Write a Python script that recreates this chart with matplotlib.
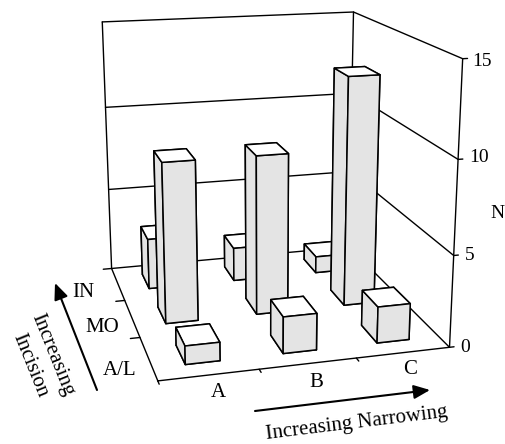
import numpy as np
import matplotlib
matplotlib.use("Agg")
import matplotlib.pyplot as plt
from matplotlib.patches import FancyArrowPatch
from mpl_toolkits.mplot3d import Axes3D

plt.rcParams['font.family'] = 'Liberation Serif'

narrowing = ['A', 'B', 'C']
incision = ['A/L', 'MO', 'IN']
counts_al = [1, 2, 2]
counts_mo = [9, 9, 13]
counts_in = [3, 2, 1]
z_ticks = [0, 5, 10, 15]

W, H = 506, 444
fs = 15
fig = plt.figure(figsize=(W / 100, H / 100), dpi=100)
ax = fig.add_axes([-0.038, -0.038, 1.1, 1.25], projection='3d')
ax.set_proj_type('persp', focal_length=0.4)
ax.view_init(elev=16, azim=-105)
ax.set_box_aspect((291, 308, 288), zoom=0.86)
ax.computed_zorder = False
ax.set_xlim(0, 3)
ax.set_ylim(0, 3)
ax.set_zlim(0, 15)
ax.set_axis_off()

k = dict(color='k', lw=1.0, zorder=1, solid_capstyle='round')
# floor
ax.plot([0, 3, 3, 0, 0], [0, 0, 3, 3, 0], [0, 0, 0, 0, 0], **k)
# walls
ax.plot([0, 0], [3, 3], [0, 15], **k)
ax.plot([3, 3], [3, 3], [0, 15], **k)
ax.plot([3, 3], [0, 0], [0, 15], **k)
ax.plot([0, 3, 3], [3, 3, 0], [15, 15, 15], **k)
for z in z_ticks[1:-1]:
    ax.plot([0, 3, 3], [3, 3, 0], [z, z, z], **k)
# ticks
for z in z_ticks:
    ax.plot([3, 3.05], [0, 0], [z, z], **k)
for x in range(3):
    ax.plot([x, x], [0, -0.07], [0, 0], **k)
for y in range(1, 4):
    ax.plot([0, -0.1], [y, y], [0, 0], **k)

# bars, back row first
width = 0.35
depth = 0.45
colors = ['#e4e4e4', 'white', '#e4e4e4', '#e4e4e4', '#e4e4e4', '#e4e4e4']
rows = [counts_al, counts_mo, counts_in]
order = 10
for iy in [2, 1, 0]:
    for ix, val in enumerate(rows[iy]):
        ax.bar3d(ix + 0.5 - width / 2, iy + 0.5 - depth / 2, 0, width, depth, val,
                 color=colors, edgecolor='k', linewidth=1.1, shade=False, zorder=order)
        order += 1

def px(x, y):
    return x / W, 1 - y / H

# tick labels
for t, pos in zip(z_ticks, [(465, 347), (470, 256), (479, 158), (482, 62)]):
    fig.text(*px(*pos), str(t), fontsize=14, ha='center', va='center')
for t, pos in zip(narrowing, [(218, 392), (316, 382), (410, 369)]):
    fig.text(*px(*pos), t, fontsize=fs, ha='center', va='center')
for t, pos in zip(incision, [(120, 370), (102, 327), (83, 292)]):
    fig.text(*px(*pos), t, fontsize=fs, ha='center', va='center')

fig.text(*px(497, 213), 'N', fontsize=14, ha='center', va='center')
fig.text(*px(357, 423), 'Increasing Narrowing', fontsize=fs, rotation=7, ha='center', va='center')
fig.text(*px(52, 355), 'Increasing', fontsize=fs, rotation=-68, ha='center', va='center')
fig.text(*px(30, 365), 'Incision', fontsize=fs, rotation=-68, ha='center', va='center')
arrow = dict(arrowstyle='-|>,head_length=0.7,head_width=0.3', color='k', lw=1.5, shrinkA=0, shrinkB=0, mutation_scale=14)
fig.add_artist(FancyArrowPatch(px(97, 390), px(55, 283), transform=fig.transFigure, **arrow))
fig.add_artist(FancyArrowPatch(px(255, 411), px(430, 390), transform=fig.transFigure, **arrow))
fig.savefig('out.png', dpi=100)
